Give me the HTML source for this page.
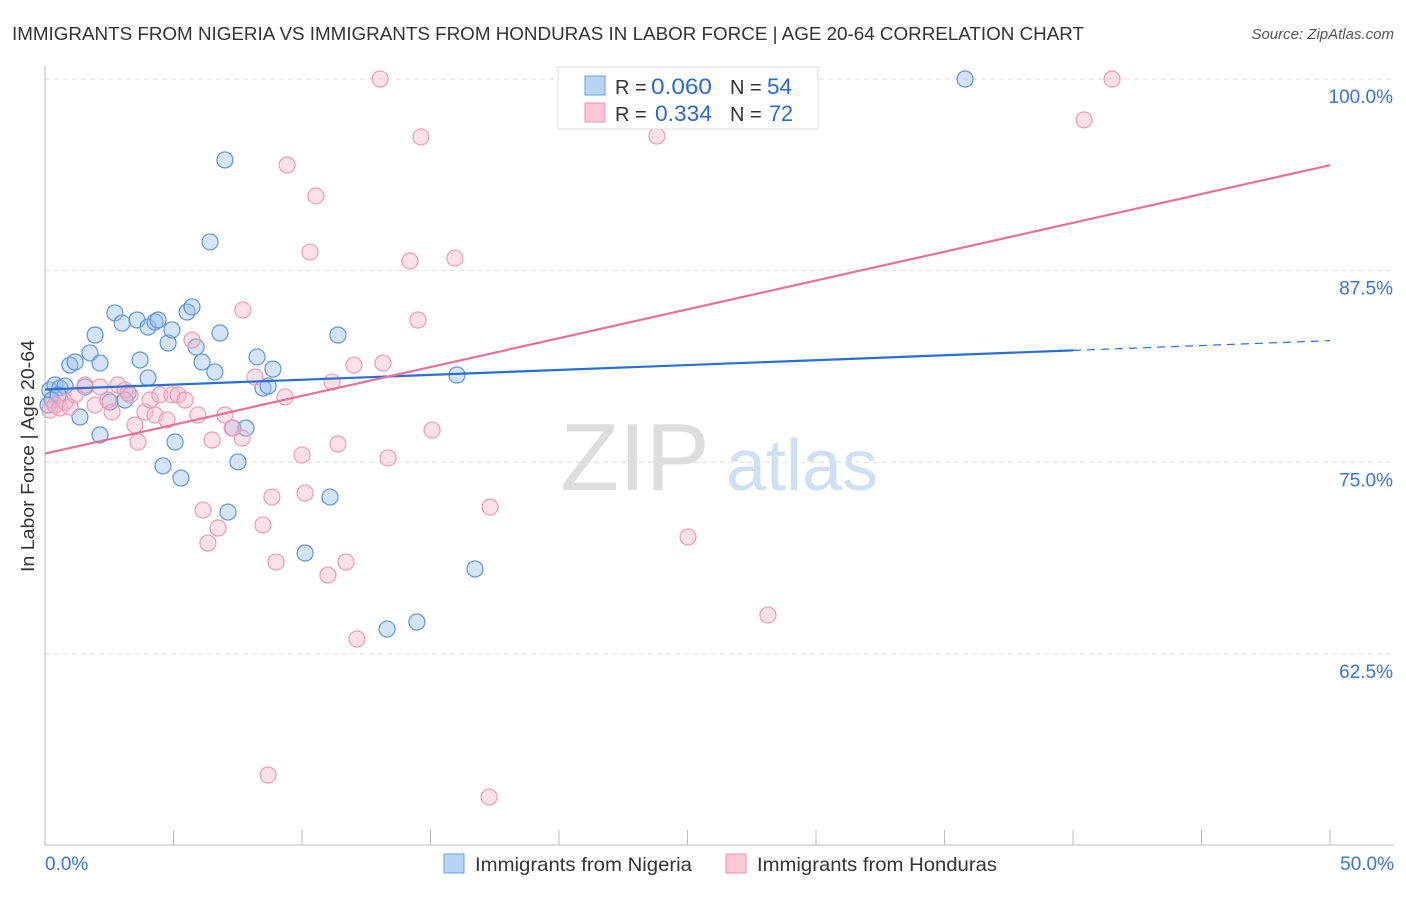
<!DOCTYPE html>
<html><head><meta charset="utf-8">
<style>
body{margin:0;background:#fff;font-family:"Liberation Sans",sans-serif;}
svg text{font-family:"Liberation Sans",sans-serif;}
</style></head>
<body>
<svg id="chart" width="1406" height="892" xmlns="http://www.w3.org/2000/svg">
<text x="12" y="40" font-size="18.5" fill="#333" textLength="1072" lengthAdjust="spacingAndGlyphs">IMMIGRANTS FROM NIGERIA VS IMMIGRANTS FROM HONDURAS IN LABOR FORCE | AGE 20-64 CORRELATION CHART</text>
<text x="1394" y="39" font-size="15" fill="#555" text-anchor="end" font-style="italic">Source: ZipAtlas.com</text>
<text transform="translate(34,456) rotate(-90)" font-size="18" fill="#333" text-anchor="middle" textLength="232" lengthAdjust="spacingAndGlyphs">In Labor Force | Age 20-64</text>
<g>
<text x="635" y="490" font-size="96" fill="#ddd" text-anchor="middle" font-family="Liberation Serif">ZIP</text>
<text x="802" y="490" font-size="72" fill="#cfe0f3" text-anchor="middle">atlas</text>
</g>
<g id="grid"></g><g id="axes"></g><g id="pts"></g><g id="lines"></g>
<g>
<rect x="558" y="67" width="260" height="62" fill="#fff" stroke="#ddd"/>
<rect x="585" y="76" width="20" height="19" fill="#b9d3f5" stroke="#6a9ee0"/>
<rect x="585" y="103" width="20" height="19" fill="#fbc8d6" stroke="#ef91ad"/>
<text x="615" y="94" font-size="20" fill="#333">R =</text>
<text x="651" y="94" font-size="22" fill="#2a6acf" textLength="61" lengthAdjust="spacingAndGlyphs">0.060</text>
<text x="730" y="94" font-size="20" fill="#333">N =</text>
<text x="767" y="94" font-size="22" fill="#2a6acf" textLength="25" lengthAdjust="spacingAndGlyphs">54</text>
<text x="615" y="121" font-size="20" fill="#333">R =</text>
<text x="655" y="121" font-size="22" fill="#2a6acf" textLength="57" lengthAdjust="spacingAndGlyphs">0.334</text>
<text x="730" y="121" font-size="20" fill="#333">N =</text>
<text x="769" y="121" font-size="22" fill="#2a6acf" textLength="24" lengthAdjust="spacingAndGlyphs">72</text>
</g>
<g>
<rect x="444" y="854" width="20" height="19" fill="#b9d3f5" stroke="#6a9ee0"/>
<text x="475" y="871" font-size="19.5" fill="#333" textLength="217" lengthAdjust="spacingAndGlyphs">Immigrants from Nigeria</text>
<rect x="726" y="854" width="20" height="19" fill="#fbc8d6" stroke="#ef91ad"/>
<text x="757" y="871" font-size="19.5" fill="#333" textLength="240" lengthAdjust="spacingAndGlyphs">Immigrants from Honduras</text>
</g>
</svg>
<script>
const yTicks=[100,87.5,75,62.5];
const yTickLabels=["100.0%","87.5%","75.0%","62.5%"];
const nigeriaX=[0.19,0.39,0.58,0.78,0.27,0.51,0.12,0.97,1.17,1.75,1.95,2.14,1.36,2.14,1.56,2.53,2.72,3.00,3.23,3.11,3.58,3.70,4.01,4.01,4.28,4.40,4.79,4.94,5.53,5.72,5.88,6.11,6.42,6.61,6.81,7.00,5.06,4.59,5.29,7.12,7.31,7.51,7.82,8.25,8.48,8.68,8.87,10.12,11.09,11.40,13.31,14.47,16.03,16.73,35.80];
const nigeriaY=[79.71,80.04,79.84,79.97,79.06,79.39,78.73,81.34,81.54,82.13,83.30,81.47,77.95,76.78,79.91,78.93,84.74,84.08,79.52,79.06,84.28,81.67,80.50,83.82,84.15,84.28,82.78,83.63,84.80,85.13,82.52,81.54,89.37,80.89,83.43,94.72,76.32,74.76,73.97,71.75,77.23,75.02,77.23,81.87,79.84,79.97,81.08,69.08,72.73,83.30,64.12,64.58,80.69,68.04,100];
const hondurasX=[0.19,0.39,0.58,0.78,0.97,1.17,1.56,1.95,2.14,2.45,2.61,2.84,3.11,3.31,3.50,3.62,3.89,4.09,4.28,4.47,4.75,4.94,5.18,5.45,5.72,5.95,6.15,6.34,6.50,6.73,7.00,7.28,7.67,7.70,8.17,8.48,8.68,8.83,8.99,9.34,9.42,10.00,10.12,10.31,10.54,11.01,11.17,11.40,11.71,12.02,12.14,13.04,13.15,13.35,14.20,14.51,14.63,15.06,15.95,17.28,17.32,23.81,25.02,27.35,28.13,40.43,41.52,24.51];
const hondurasY=[78.41,78.73,78.54,78.93,78.60,79.39,80.04,78.73,79.91,79.06,78.28,80.04,79.71,79.39,77.43,76.32,78.28,79.06,78.08,79.39,77.76,79.39,79.39,79.06,82.97,78.08,71.88,69.73,76.45,70.71,78.08,77.23,76.58,84.93,80.56,70.91,54.60,72.73,68.49,79.26,94.39,75.47,72.99,88.71,92.37,67.64,80.23,76.19,68.49,81.34,63.47,100,81.47,75.28,88.13,84.28,96.22,77.10,88.32,53.16,72.08,96.28,70.12,98.11,65.04,97.33,100,100];
const X=v=>45+v*25.7, Y=v=>79+(100-v)*15.33;
const NS="http://www.w3.org/2000/svg";
function mk(parent,tag,attrs){const e=document.createElementNS(NS,tag);for(const k in attrs)e.setAttribute(k,attrs[k]);document.getElementById(parent).appendChild(e);return e;}
yTicks.forEach((t,i)=>{
 const l=mk('grid','line',{x1:45,x2:1394,y1:Y(t),y2:Y(t),stroke:'#ddd','stroke-dasharray':'5,4'});
 
 
 const tx=mk('grid','text',{x:1393,y:Y(t)+24,'font-size':19,fill:'#3b74d4','text-anchor':'end'});
 tx.textContent=yTickLabels[i];
 
 
});
const ax=mk('axes','line',{x1:45,x2:45,y1:66,y2:845,stroke:'#bbb'});


const bx=mk('axes','line',{x1:45,x2:1394,y1:845,y2:845,stroke:'#bbb'});


for(let i=0;i<=10;i++){const t=mk('axes','line',{x1:X(i*5),x2:X(i*5),y1:830,y2:845,stroke:'#bbb'});
 
 }
[["0.0%",45,'start'],["50.0%",1394,'end']].forEach(a=>{const t=mk('axes','text',{x:a[1],y:870,'font-size':19,fill:'#3b74d4','text-anchor':a[2]});t.textContent=a[0];
 
 });
nigeriaX.forEach((x,i)=>{const c=mk('pts','circle',{cx:X(x),cy:Y(nigeriaY[i]),r:8,fill:'rgba(150,190,240,0.4)',stroke:'#5f95dc','stroke-width':1.2});
 
 });
hondurasX.forEach((x,i)=>{const c=mk('pts','circle',{cx:X(x),cy:Y(hondurasY[i]),r:8,fill:'rgba(248,180,200,0.4)',stroke:'#ee9bb4','stroke-width':1.2});
 
 });
function fit(xs,ys){const n=xs.length,mx=xs.reduce((a,b)=>a+b)/n,my=ys.reduce((a,b)=>a+b)/n;let sxy=0,sxx=0;xs.forEach((x,i)=>{sxy+=(x-mx)*(ys[i]-my);sxx+=(x-mx)**2});const b=sxy/sxx;return [my-b*mx,b];}
const [a1,b1]=fit(nigeriaX,nigeriaY),[a2,b2]=fit(hondurasX,hondurasY);
let l=mk('lines','line',{x1:X(0),y1:Y(a1),x2:X(40),y2:Y(a1+b1*40),stroke:'#2a6fd6','stroke-width':2.2});


l=mk('lines','line',{x1:X(40),y1:Y(a1+b1*40),x2:X(50),y2:Y(a1+b1*50),stroke:'#2a6fd6','stroke-width':1.2,'stroke-dasharray':'8,6'});


l=mk('lines','line',{x1:X(0),y1:Y(a2),x2:X(50),y2:Y(a2+b2*50),stroke:'#e8709a','stroke-width':2.2});


</script>
</body></html>
